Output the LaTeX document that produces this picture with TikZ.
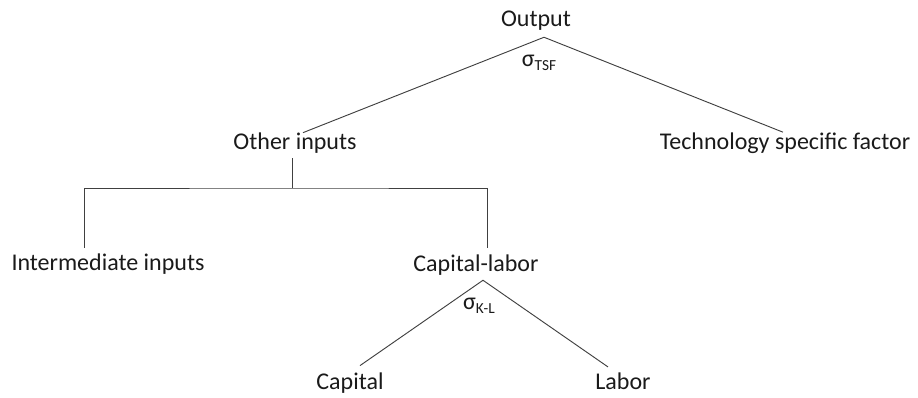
\documentclass[tikz,border=0pt]{standalone}
\usepackage{fontspec}
\setmainfont{Carlito}
\usepackage{xcolor}
\usepackage{tikz}
\usetikzlibrary{positioning,calc}
\definecolor{LineGray}{HTML}{404040}
\definecolor{TextDark}{HTML}{1A1A1A}
\newcommand{\elast}[1]{σ\raisebox{-2.3pt}{\fontsize{11.5}{11.5}\selectfont #1}}

\begin{document}
\begin{tikzpicture}[x=0.75pt,y=-0.75pt,
          every node/.style={font=\fontsize{18}{21}\selectfont,text=TextDark,
            text height=12.6pt,text depth=4.5pt,inner xsep=2pt,inner ysep=1.5pt},
          ln/.style={LineGray,line width=0.7pt}]
        \useasboundingbox (0,0) rectangle (918,398);
        % top level
        \node (out) at (536,21.6) {Output};
        \node (other) at (295,144.6) {Other inputs};
        \node (tech) at (785,144) {Technology specific factor};
        \node (stsf) at (539,61.6) {\elast{TSF}};
        % second level
        \node (inter) at (108,265.6) {Intermediate inputs};
        \node (caplab) at (476,266.6) {Capital-labor};
        \node (skl) at (479,304.6) {\elast{K-L}};
        \node (cap) at (350,384.6) {Capital};
        \node (lab) at (623,384.6) {Labor};
        \coordinate (fork) at ([xshift=-2.25pt]other.south |- 0,188);
        \draw[ln] ([xshift=6pt,yshift=-1.3pt]other.north)
          -- ([xshift=6pt,yshift=-1.5pt]out.south)
          -- ([xshift=-1.5pt,yshift=-1.4pt]tech.north);
        \draw[ln] ([xshift=-2.25pt]other.south) -- (fork);
        \draw[ln] ([xshift=-18pt,yshift=3pt]inter.north) |- (fork)
          -| ([xshift=8.25pt,yshift=4pt]caplab.north);
        \draw[ln] ([xshift=7.5pt,yshift=4pt]cap.north)
          -- ([xshift=5.25pt]caplab.south)
          -- ([xshift=-11.25pt,yshift=3pt]lab.north);
      \end{tikzpicture}
\end{document}
